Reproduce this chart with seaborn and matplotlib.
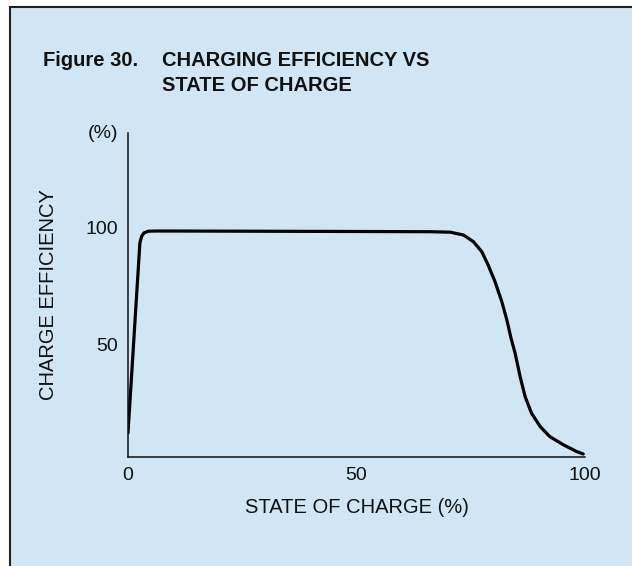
import pandas as pd
import matplotlib.pyplot as plt
import seaborn as sns
from matplotlib.patches import Rectangle

# curve: state of charge (%) vs charge efficiency (%)
soc = [0, 2.6, 3.0, 3.5, 4.4, 6, 10, 30, 50, 66.1, 70.5, 73.4, 75.6, 77.4,
       78.8, 80.3, 81.8, 82.9, 83.8, 84.7, 85.8, 86.9, 88.3, 90.2, 92.3,
       95.3, 98.2, 99.6]
eff = [12.4, 93.6, 96.5, 97.9, 98.6, 98.7, 98.7, 98.6, 98.5, 98.4, 98.2,
       97.0, 94.1, 89.9, 84.2, 77.1, 68.5, 60.7, 53.0, 46.5, 36.5, 27.9,
       20.8, 15.1, 10.8, 7.3, 4.4, 3.4]
x_ticks = [0, 50, 100]
y_ticks = [50, 100]

df = pd.DataFrame({'soc': soc, 'eff': eff})

sns.set_style('white')
plt.rcParams['font.family'] = ['Liberation Sans', 'DejaVu Sans']

bg = '#d1e6f4'
ink = '#111111'
fig = plt.figure(figsize=(6.32, 5.66), dpi=100, facecolor='white')
panel = Rectangle((10 / 632, -0.05), 1.1, 1 - 7 / 566 + 0.05,
                  transform=fig.transFigure, facecolor=bg,
                  edgecolor='#222222', linewidth=1.5, zorder=-10)
fig.add_artist(panel)

ax = fig.add_axes([128 / 632, 109 / 566, 457 / 632, 324 / 566])
ax.set_facecolor('none')
sns.lineplot(data=df, x='soc', y='eff', ax=ax, color='black', linewidth=2.3)

ax.set_xlim(0, 100)
ax.set_ylim(2.1, 140.6)
sns.despine(ax=ax)
for s in ['left', 'bottom']:
    ax.spines[s].set_color(ink)
    ax.spines[s].set_linewidth(1.1)

ax.set_xticks(x_ticks)
ax.set_yticks(y_ticks)
ax.tick_params(axis='both', direction='in', length=5.8, width=1.1,
               colors=ink, labelsize=14)
ax.tick_params(axis='y', pad=7)
ax.tick_params(axis='x', pad=7.5)
ax.set_xlabel('STATE OF CHARGE (%)', fontsize=14.5, labelpad=10, color=ink)
ax.set_ylabel('CHARGE EFFICIENCY', fontsize=14.5, labelpad=20, color=ink)
ax.text(-0.022, 1.0, '(%)', transform=ax.transAxes, ha='right', va='center',
        fontsize=14, color=ink)

fig.text(43 / 632, 1 - 66 / 566, 'Figure 30.', fontsize=14.5, fontweight='bold',
         va='baseline', ha='left', color=ink)
fig.text(162 / 632, 1 - 66 / 566, 'CHARGING EFFICIENCY VS', fontsize=14.5,
         fontweight='bold', va='baseline', ha='left', color=ink)
fig.text(162 / 632, 1 - 90.7 / 566, 'STATE OF CHARGE', fontsize=14.5,
         fontweight='bold', va='baseline', ha='left', color=ink)

plt.savefig('out.png', dpi=100, facecolor=fig.get_facecolor())
